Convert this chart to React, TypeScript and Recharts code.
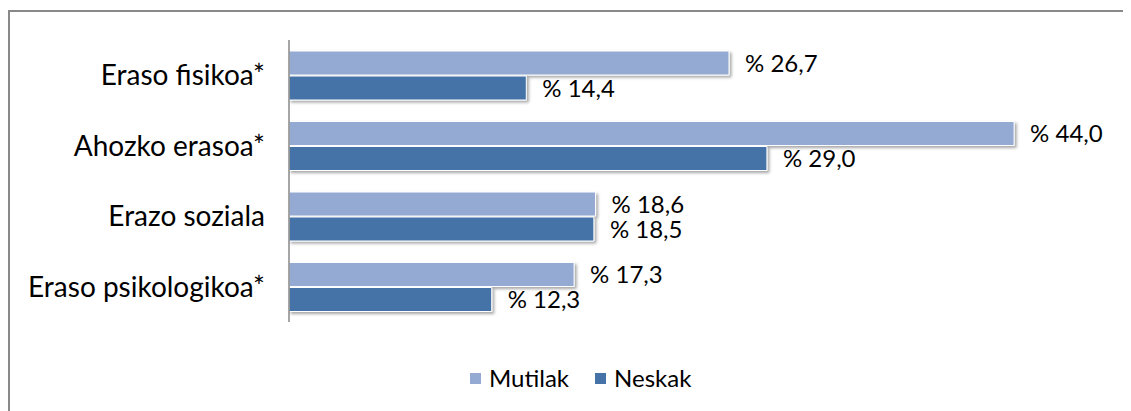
import React from "react";
import { BarChart, Bar, XAxis, YAxis, Legend, LabelList } from "recharts";

const categories = ["Eraso fisikoa*", "Ahozko erasoa*", "Erazo soziala", "Eraso psikologikoa*"];
const mutilak = [26.7, 44.0, 18.6, 17.3];
const neskak = [14.4, 29.0, 18.5, 12.3];
const seriesNames = ["Mutilak", "Neskak"];

const data = categories.map((c, i) => ({ name: c, Mutilak: mutilak[i], Neskak: neskak[i] }));

const COLORS = { Mutilak: "#95AAD3", Neskak: "#4573A8" };
const FONT = "Lato, 'Open Sans', sans-serif";

const fmt = (v: any) => `% ${Number(v).toFixed(1).replace(".", ",")}`;

const LegendContent = () => (
  <div style={{ position: "relative", height: 24, fontFamily: FONT, fontSize: 24, color: "#000" }}>
    <div style={{ position: "absolute", left: 460, top: 0, display: "flex", alignItems: "center", height: 24 }}>
      {seriesNames.map((n, i) => (
        <div key={n} style={{ display: "flex", alignItems: "center", marginRight: i === 0 ? 26 : 0 }}>
          <span style={{ display: "inline-block", width: 11, height: 11, background: (COLORS as any)[n], marginRight: 8 }} />
          <span style={{ lineHeight: "24px" }}>{n}</span>
        </div>
      ))}
    </div>
  </div>
);

export default function App() {
  return (
    <div style={{ marginTop: 2, width: 1130, height: 410, border: "2px solid #898989", borderRight: "none", borderBottom: "none", position: "relative", background: "#fff" }}>
      <svg width={0} height={0} style={{ position: "absolute" }}>
        <defs>
          <filter id="barShadow" x="-5%" y="-20%" width="115%" height="160%">
            <feDropShadow dx="2" dy="2" stdDeviation="1.5" floodColor="#000" floodOpacity="0.35" />
          </filter>
        </defs>
      </svg>
      <BarChart
        width={1120}
        height={398}
        data={data}
        layout="vertical"
        margin={{ top: 28, right: 17, bottom: 88, left: 0 }}
        barSize={24}
        barGap={1}
      >
        <XAxis type="number" domain={[0, 50]} hide />
        <YAxis
          type="category"
          dataKey="name"
          width={279}
          axisLine={{ stroke: "#888", strokeWidth: 1.5 }}
          tickLine={false}
          tickSize={0}
          tickMargin={24}
          tick={{ fill: "#000", fontSize: 28, fontFamily: FONT }}
        />
        <Legend
          verticalAlign="middle"
          layout="horizontal"
          wrapperStyle={{ top: 354, left: 0, width: 1120 }}
          content={<LegendContent />}
        />
        {seriesNames.map((n) => (
          <Bar
            key={n}
            dataKey={n}
            fill={(COLORS as any)[n]}
            stroke="#fff"
            strokeWidth={1}
            isAnimationActive={false}
            style={{ filter: "url(#barShadow)" }}
          >
            <LabelList
              dataKey={n}
              position="right"
              offset={16}
              formatter={fmt}
              style={{ fill: "#000", fontSize: 24, fontFamily: FONT }}
            />
          </Bar>
        ))}
      </BarChart>
    </div>
  );
}
